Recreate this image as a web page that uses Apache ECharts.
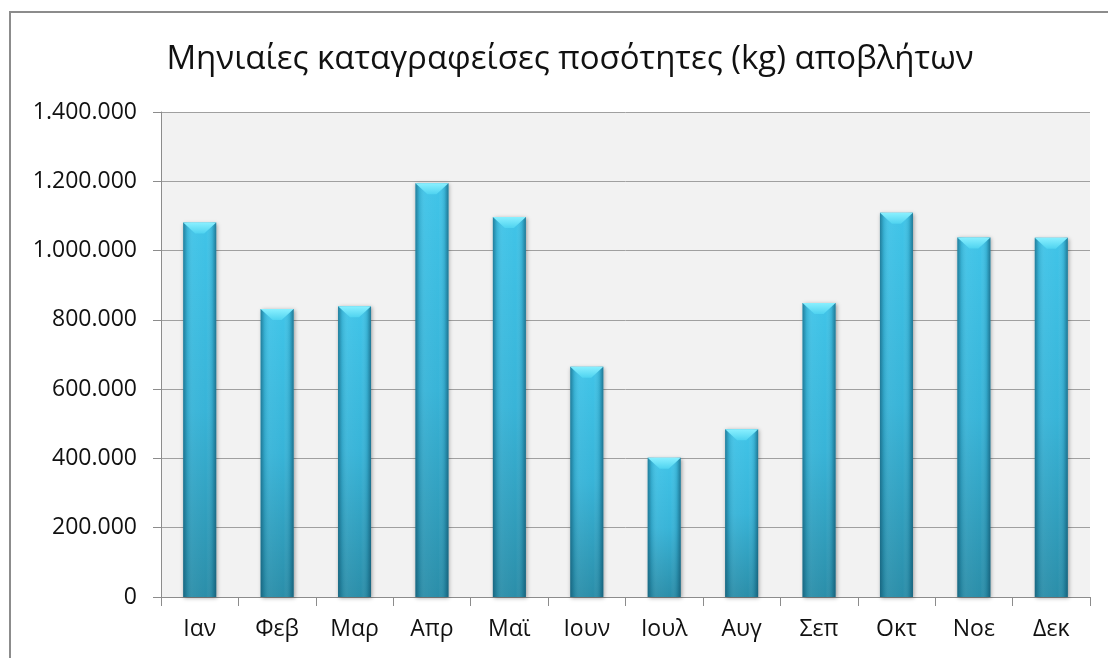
<!DOCTYPE html>
<html><head><meta charset="utf-8">
<script src="https://cdn.jsdelivr.net/npm/echarts@6/dist/echarts.min.js"></script>
<style>html,body{margin:0;padding:0;background:#fff;}#c{width:1108px;height:658px;}</style>
</head><body><div id="c"></div>
<script>
var titleText = 'Μηνιαίες καταγραφείσες ποσότητες (kg) αποβλήτων';
var months = ['Ιαν','Φεβ','Μαρ','Απρ','Μαϊ','Ιουν','Ιουλ','Αυγ','Σεπ','Οκτ','Νοε','Δεκ'];
var values = [1081000, 831000, 839000, 1194000, 1097000, 665000, 402000, 484000, 849000, 1109000, 1038000, 1037000];
var yTicks = {min: 0, max: 1400000, interval: 200000};

function fmt(v){ return String(v).replace(/\B(?=(\d{3})+(?!\d))/g, '.'); }
var FONT = 'Open Sans';
var chart = echarts.init(document.getElementById('c'));
chart.setOption({
  animation: false,
  backgroundColor: '#ffffff',
  title: {text: titleText, left: 565, textAlign: 'center', top: 38,
    textStyle: {fontFamily: FONT, fontSize: 33, fontWeight: 'normal', color: '#111'}},
  graphic: [{type: 'rect', shape: {x: 10, y: 12, width: 1300, height: 800},
    style: {fill: 'none', stroke: '#8c8c8c', lineWidth: 2}, silent: true}],
  grid: {left: 161, top: 112, right: 18, bottom: 61, show: true, backgroundColor: '#f2f2f2', borderWidth: 0},
  xAxis: {type: 'category', data: months,
    axisLine: {lineStyle: {color: '#8c8c8c', width: 1}},
    axisTick: {show: true, length: 9, lineStyle: {color: '#8c8c8c'}},
    axisLabel: {fontFamily: FONT, fontSize: 23, color: '#111', margin: 21}},
  yAxis: {type: 'value', min: yTicks.min, max: yTicks.max, interval: yTicks.interval,
    axisLine: {show: true, lineStyle: {color: '#8c8c8c', width: 1}},
    axisTick: {show: true, length: 8, lineStyle: {color: '#8c8c8c'}},
    splitLine: {lineStyle: {color: '#a0a0a0', width: 1}},
    axisLabel: {fontFamily: FONT, fontSize: 23, color: '#111', margin: 24, formatter: fmt}},
  series: [
    {type: 'bar', data: values, barWidth: 33, z: 2,
      itemStyle: {color: new echarts.graphic.LinearGradient(0,0,0,1,[
        {offset: 0, color: '#40c4e8'}, {offset: 0.5, color: '#38b4d8'}, {offset: 1, color: '#2b8ea9'}]),
        shadowBlur: 4, shadowColor: 'rgba(0,0,0,0.35)', shadowOffsetX: 1, shadowOffsetY: 1}},
    {type: 'bar', data: values, barWidth: 33, barGap: '-100%', z: 3, silent: true,
      itemStyle: {color: new echarts.graphic.LinearGradient(0,0,1,0,[
        {offset: 0, color: 'rgba(10,70,95,0.55)'}, {offset: 0.12, color: 'rgba(10,70,95,0.15)'},
        {offset: 0.3, color: 'rgba(255,255,255,0.04)'}, {offset: 0.7, color: 'rgba(255,255,255,0.0)'},
        {offset: 0.88, color: 'rgba(10,70,95,0.15)'}, {offset: 1, color: 'rgba(10,70,95,0.6)'}])}},
    {type: 'pictorialBar', data: values, z: 4, silent: true,
      symbol: 'path://M0,0 L33,0 L21,11 L12,11 Z', symbolSize: [33, 11], symbolPosition: 'end',
      symbolOffset: [0, 0],
      itemStyle: {color: new echarts.graphic.LinearGradient(0,0,0,1,[
        {offset: 0, color: '#8af0ff'}, {offset: 1, color: '#4fd3f0'}])}}
  ]
});
</script></body></html>
